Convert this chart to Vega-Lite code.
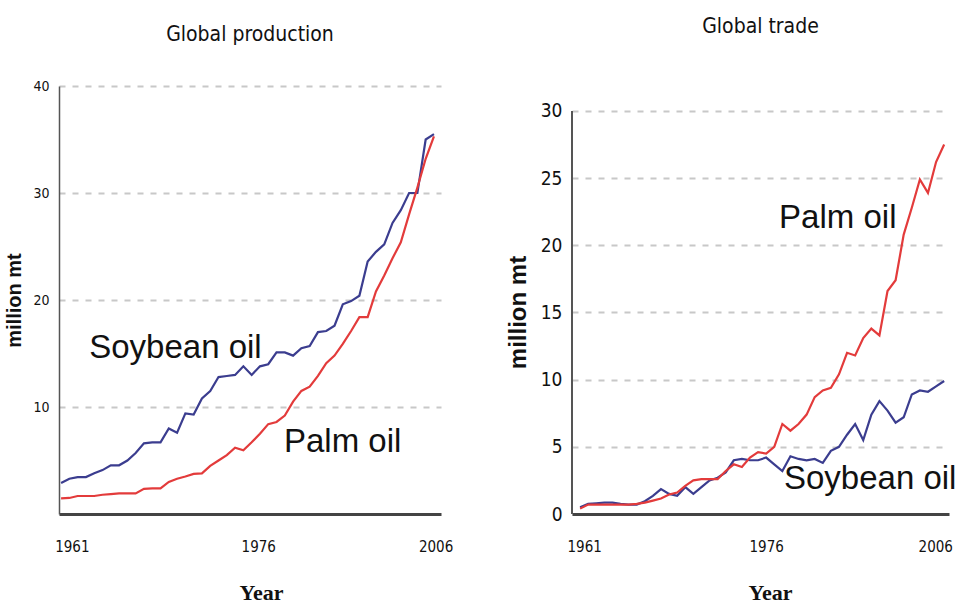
{
  "$schema": "https://vega.github.io/schema/vega-lite/v6.json",
  "background": "white",
  "padding": {"left": 4, "top": 16, "right": 0, "bottom": 0},
  "autosize": {"type": "pad"},
  "spacing": 53,
  "config": {
    "view": {"stroke": null},
    "axis": {"ticks": false, "labelColor": "#111", "titleColor": "#111"}
  },
  "datasets": {
    "production": [
      {"year": 1961, "soybean": 2.9, "palm": 1.46},
      {"year": 1962, "soybean": 3.3, "palm": 1.5},
      {"year": 1963, "soybean": 3.45, "palm": 1.68},
      {"year": 1964, "soybean": 3.45, "palm": 1.68},
      {"year": 1965, "soybean": 3.8, "palm": 1.68},
      {"year": 1966, "soybean": 4.1, "palm": 1.8},
      {"year": 1967, "soybean": 4.55, "palm": 1.86},
      {"year": 1968, "soybean": 4.55, "palm": 1.93},
      {"year": 1969, "soybean": 5.0, "palm": 1.93},
      {"year": 1970, "soybean": 5.7, "palm": 1.93},
      {"year": 1971, "soybean": 6.6, "palm": 2.35},
      {"year": 1972, "soybean": 6.7, "palm": 2.4},
      {"year": 1973, "soybean": 6.7, "palm": 2.4},
      {"year": 1974, "soybean": 8.0, "palm": 3.0},
      {"year": 1975, "soybean": 7.6, "palm": 3.3},
      {"year": 1976, "soybean": 9.4, "palm": 3.5},
      {"year": 1977, "soybean": 9.3, "palm": 3.75},
      {"year": 1978, "soybean": 10.8, "palm": 3.8},
      {"year": 1979, "soybean": 11.5, "palm": 4.5},
      {"year": 1980, "soybean": 12.8, "palm": 5.0},
      {"year": 1981, "soybean": 12.9, "palm": 5.5},
      {"year": 1982, "soybean": 13.0, "palm": 6.2},
      {"year": 1983, "soybean": 13.8, "palm": 5.95},
      {"year": 1984, "soybean": 13.0, "palm": 6.7},
      {"year": 1985, "soybean": 13.8, "palm": 7.5},
      {"year": 1986, "soybean": 14.0, "palm": 8.4},
      {"year": 1987, "soybean": 15.1, "palm": 8.6},
      {"year": 1988, "soybean": 15.1, "palm": 9.2},
      {"year": 1989, "soybean": 14.8, "palm": 10.5},
      {"year": 1990, "soybean": 15.5, "palm": 11.5},
      {"year": 1991, "soybean": 15.7, "palm": 11.9},
      {"year": 1992, "soybean": 17.0, "palm": 12.9},
      {"year": 1993, "soybean": 17.1, "palm": 14.1},
      {"year": 1994, "soybean": 17.6, "palm": 14.8},
      {"year": 1995, "soybean": 19.6, "palm": 15.9},
      {"year": 1996, "soybean": 19.9, "palm": 17.1},
      {"year": 1997, "soybean": 20.4, "palm": 18.4},
      {"year": 1998, "soybean": 23.6, "palm": 18.4},
      {"year": 1999, "soybean": 24.5, "palm": 20.8},
      {"year": 2000, "soybean": 25.2, "palm": 22.3},
      {"year": 2001, "soybean": 27.2, "palm": 23.9},
      {"year": 2002, "soybean": 28.4, "palm": 25.4},
      {"year": 2003, "soybean": 30.0, "palm": 28.0},
      {"year": 2004, "soybean": 30.0, "palm": 30.5},
      {"year": 2005, "soybean": 35.0, "palm": 33.2},
      {"year": 2006, "soybean": 35.5, "palm": 35.3}
    ],
    "trade": [
      {"year": 1961, "soybean": 0.5, "palm": 0.4},
      {"year": 1962, "soybean": 0.75, "palm": 0.7},
      {"year": 1963, "soybean": 0.8, "palm": 0.7},
      {"year": 1964, "soybean": 0.85, "palm": 0.7},
      {"year": 1965, "soybean": 0.85, "palm": 0.7},
      {"year": 1966, "soybean": 0.75, "palm": 0.7},
      {"year": 1967, "soybean": 0.7, "palm": 0.7},
      {"year": 1968, "soybean": 0.7, "palm": 0.75},
      {"year": 1969, "soybean": 0.95, "palm": 0.85},
      {"year": 1970, "soybean": 1.35, "palm": 1.0},
      {"year": 1971, "soybean": 1.85, "palm": 1.15},
      {"year": 1972, "soybean": 1.5, "palm": 1.45},
      {"year": 1973, "soybean": 1.35, "palm": 1.6},
      {"year": 1974, "soybean": 2.0, "palm": 2.1},
      {"year": 1975, "soybean": 1.5, "palm": 2.5},
      {"year": 1976, "soybean": 2.0, "palm": 2.6},
      {"year": 1977, "soybean": 2.5, "palm": 2.6},
      {"year": 1978, "soybean": 2.7, "palm": 2.6},
      {"year": 1979, "soybean": 3.1, "palm": 3.2},
      {"year": 1980, "soybean": 4.0, "palm": 3.7},
      {"year": 1981, "soybean": 4.1, "palm": 3.5},
      {"year": 1982, "soybean": 4.0, "palm": 4.2},
      {"year": 1983, "soybean": 4.0, "palm": 4.6},
      {"year": 1984, "soybean": 4.2, "palm": 4.5},
      {"year": 1985, "soybean": 3.7, "palm": 5.0},
      {"year": 1986, "soybean": 3.2, "palm": 6.7},
      {"year": 1987, "soybean": 4.3, "palm": 6.2},
      {"year": 1988, "soybean": 4.1, "palm": 6.7},
      {"year": 1989, "soybean": 4.0, "palm": 7.4},
      {"year": 1990, "soybean": 4.1, "palm": 8.7},
      {"year": 1991, "soybean": 3.8, "palm": 9.2},
      {"year": 1992, "soybean": 4.7, "palm": 9.4},
      {"year": 1993, "soybean": 5.0, "palm": 10.4},
      {"year": 1994, "soybean": 5.9, "palm": 12.0},
      {"year": 1995, "soybean": 6.7, "palm": 11.8},
      {"year": 1996, "soybean": 5.5, "palm": 13.1},
      {"year": 1997, "soybean": 7.4, "palm": 13.8},
      {"year": 1998, "soybean": 8.4, "palm": 13.3},
      {"year": 1999, "soybean": 7.7, "palm": 16.6},
      {"year": 2000, "soybean": 6.8, "palm": 17.4},
      {"year": 2001, "soybean": 7.2, "palm": 20.8},
      {"year": 2002, "soybean": 8.9, "palm": 22.8},
      {"year": 2003, "soybean": 9.2, "palm": 24.9},
      {"year": 2004, "soybean": 9.1, "palm": 23.9},
      {"year": 2005, "soybean": 9.5, "palm": 26.2},
      {"year": 2006, "soybean": 9.9, "palm": 27.5}
    ],
    "labels": [
      {"panel": "production", "label": "Soybean oil", "year": 1964.4, "value": 14.6},
      {"panel": "production", "label": "Palm oil", "year": 1987.9, "value": 5.8},
      {"panel": "trade", "label": "Palm oil", "year": 1985.6, "value": 21.3},
      {"panel": "trade", "label": "Soybean oil", "year": 1986.2, "value": 1.85}
    ]
  },
  "hconcat": [
    {
      "width": 382,
      "height": 428,
      "title": {"text": "Global production", "font": "DejaVu Sans Condensed", "fontSize": 21, "fontWeight": "normal", "color": "#111", "anchor": "middle", "offset": 34},
      "layer": [
        {
          "data": {"name": "production"},
          "transform": [{"fold": ["soybean", "palm"], "as": ["oil", "value"]}],
          "mark": {"type": "line", "strokeWidth": 2.2},
          "encoding": {
            "x": {"field": "year", "type": "quantitative",
              "scale": {"domain": [1960.75, 2006.85], "nice": false, "zero": false},
              "axis": {"values": [1962.3, 1984.8, 2006.2], "labelExpr": "datum.value < 1970 ? '1961' : datum.value < 2000 ? '1976' : '2006'",
                "grid": false, "labelFlush": false, "labelFont": "DejaVu Sans Condensed", "labelFontSize": 15, "labelPadding": 25,
                "domainColor": "#444", "domainWidth": 3,
                "title": "Year", "titleFont": "Liberation Serif", "titleFontSize": 22, "titleFontWeight": "bold", "titlePadding": 28, "titleX": 202}},
            "y": {"field": "value", "type": "quantitative",
              "scale": {"domain": [0, 40], "nice": false},
              "axis": {"values": [10, 20, 30, 40], "grid": true, "gridColor": "#c8c8c8", "gridWidth": 2, "gridDash": [6, 7],
                "domainColor": "#555", "domainWidth": 1.5,
                "labelFont": "DejaVu Sans Condensed", "labelFontSize": 14, "labelPadding": 10,
                "title": "million mt", "titleFont": "Liberation Sans", "titleFontSize": 20, "titleFontWeight": "bold", "titlePadding": 8}},
            "color": {"field": "oil", "type": "nominal", "scale": {"domain": ["soybean", "palm"], "range": ["#3b3d8f", "#e33b3b"]}, "legend": null}
          }
        },
        {
          "data": {"name": "labels"},
          "transform": [{"filter": "datum.panel == 'production'"}],
          "mark": {"type": "text", "align": "left", "baseline": "alphabetic", "font": "Liberation Sans", "fontSize": 33, "color": "#111"},
          "encoding": {
            "x": {"field": "year", "type": "quantitative"},
            "y": {"field": "value", "type": "quantitative"},
            "text": {"field": "label"}
          }
        }
      ]
    },
    {
      "width": 377,
      "height": 428,
      "title": {"text": "Global trade", "font": "DejaVu Sans Condensed", "fontSize": 21, "fontWeight": "normal", "color": "#111", "anchor": "middle", "offset": 49},
      "layer": [
        {
          "data": {"name": "trade"},
          "transform": [{"fold": ["soybean", "palm"], "as": ["oil", "value"]}],
          "mark": {"type": "line", "strokeWidth": 2.2},
          "encoding": {
            "x": {"field": "year", "type": "quantitative",
              "scale": {"domain": [1960, 2006.6], "nice": false, "zero": false},
              "axis": {"values": [1961.5, 1984, 2004.9], "labelExpr": "datum.value < 1970 ? '1961' : datum.value < 2000 ? '1976' : '2006'",
                "grid": false, "labelFlush": false, "labelFont": "DejaVu Sans Condensed", "labelFontSize": 15, "labelPadding": 25,
                "domainColor": "#444", "domainWidth": 3,
                "title": "Year", "titleFont": "Liberation Serif", "titleFontSize": 22, "titleFontWeight": "bold", "titlePadding": 28, "titleX": 198}},
            "y": {"field": "value", "type": "quantitative",
              "scale": {"domain": [0, 31.86], "nice": false},
              "axis": {"values": [0, 5, 10, 15, 20, 25, 30], "grid": true, "gridColor": "#c8c8c8", "gridWidth": 2, "gridDash": [6, 7],
                "domain": false,
                "labelFont": "DejaVu Sans Condensed", "labelFontSize": 19, "labelPadding": 10,
                "title": "million mt", "titleFont": "Liberation Sans", "titleFontSize": 24, "titleFontWeight": "bold", "titlePadding": 10, "titleY": 226}},
            "color": {"field": "oil", "type": "nominal", "scale": {"domain": ["soybean", "palm"], "range": ["#3b3d8f", "#e33b3b"]}, "legend": null}
          }
        },
        {
          "data": {"values": [{}]},
          "mark": {"type": "rule", "color": "#555", "strokeWidth": 2},
          "encoding": {
            "x": {"datum": 1960, "type": "quantitative"},
            "y": {"datum": 0, "type": "quantitative"},
            "y2": {"datum": 30}
          }
        },
        {
          "data": {"name": "labels"},
          "transform": [{"filter": "datum.panel == 'trade'"}],
          "mark": {"type": "text", "align": "left", "baseline": "alphabetic", "font": "Liberation Sans", "fontSize": 33, "color": "#111"},
          "encoding": {
            "x": {"field": "year", "type": "quantitative"},
            "y": {"field": "value", "type": "quantitative"},
            "text": {"field": "label"}
          }
        }
      ]
    }
  ],
  "resolve": {"scale": {"color": "shared"}}
}
